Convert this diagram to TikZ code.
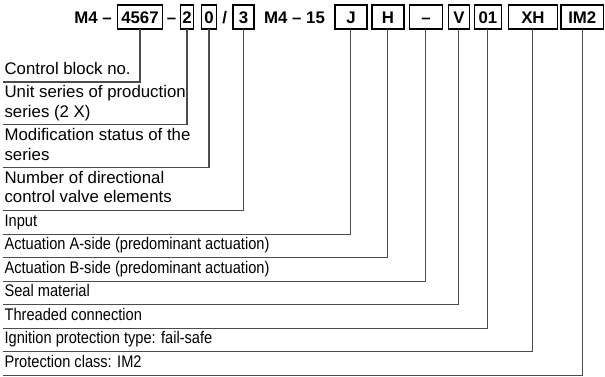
\documentclass[tikz,border=0pt]{standalone}
\usepackage{fontspec}
\setmainfont{Liberation Sans}
\newfontfamily\narrowfont[FakeStretch=0.87]{Liberation Sans}
\usetikzlibrary{positioning,calc}

\begin{document}
\begin{tikzpicture}[
  x=0.75pt,y=-0.75pt,
  every node/.style={font=\fontsize{12.6}{14.6}\selectfont},
  code/.style={draw=black,line width=1.1pt,outer sep=0pt,inner sep=1pt,
    minimum height=18pt,text height=9.1pt,text depth=0pt,
    font=\fontsize{12.6}{14.6}\selectfont\bfseries},
  sep/.style={inner sep=0pt,text height=9.1pt,text depth=0pt,
    font=\fontsize{12.6}{14.6}\selectfont\bfseries},
  lbl/.style={align=left,inner xsep=1pt,inner ysep=1.3pt,
    execute at begin node=\strut,execute at end node=\strut},
  lbln/.style={lbl,font=\fontsize{12.6}{14.6}\narrowfont},
  lead/.style={draw=black!70,line width=0.8pt}
 ]
  \useasboundingbox (0,0) rectangle (605,376);
  % type code
  \node[code,minimum width=34pt] (c4567) at (140,17) {4567};
  \node[code,minimum width=10pt,right=13.25pt of c4567] (c2) {2};
  \node[code,minimum width=11.5pt,right=5.75pt of c2] (c0) {0};
  \node[code,minimum width=16pt,right=12.1pt of c0] (c3) {3};
  \node[code,minimum width=24pt,right=60.6pt of c3] (cJ) {J};
  \node[code,minimum width=24pt,right=3.75pt of cJ] (cH) {H};
  \node[code,minimum width=25pt,right=4pt of cH] (cB) {–};
  \node[code,minimum width=16pt,right=4.25pt of cB] (cV) {V};
  \node[code,minimum width=20.5pt,right=3.5pt of cV] (c01) {01};
  \node[code,minimum width=37pt,right=5pt of c01] (cXH) {XH};
  \node[code,minimum width=32pt,right=2.5pt of cXH] (cIM) {IM2};
  \node[sep,left=4pt of c4567] (tm4) {M4 –};
  \node[sep] (td) at ($(c4567.east)!.5!(c2.west)$) {–};
  \node[sep] (tsl) at ($(c0.east)!.5!(c3.west)$) {/};
  \node[sep] (tm15) at ($(c3.east)!.5!(cJ.west)$) {M4 – 15};
  % legend
  \node[lbl,anchor=south west] (lctl) at (3,82) {Control block no.};
  \node[lbl,below right=0pt of lctl.south west] (lser)
    {\strut Unit series of production\\series (2 X)\strut};
  \node[lbl,below right=0pt of lser.south west] (lmod)
    {\strut Modification status of the\\series\strut};
  \node[lbl,below right=0pt of lmod.south west] (lnum)
    {\strut Number of directional\\control valve elements\strut};
  \node[lbln,below right=0pt of lnum.south west] (linp) {Input};
  \node[lbln,below right=0pt of linp.south west] (lactA)
    {Actuation A-side (predominant actuation)};
  \node[lbln,below right=0pt of lactA.south west] (lactB)
    {Actuation B-side (predominant actuation)};
  \node[lbln,below right=0pt of lactB.south west] (lseal) {Seal material};
  \node[lbln,below right=0pt of lseal.south west] (lthr) {Threaded connection};
  \node[lbln,below right=0pt of lthr.south west] (lign)
    {Ignition protection type: fail-safe};
  \node[lbln,below right=0pt of lign.south west] (lcls) {Protection class: IM2};
  % leaders
  \draw[lead] (c4567.south) |- (lctl.south west);
  \draw[lead] (c2.south) |- (lser.south west);
  \draw[lead] (c0.south) |- (lmod.south west);
  \draw[lead] (c3.south) |- (lnum.south west);
  \draw[lead] (cJ.south) |- (linp.south west);
  \draw[lead] (cH.south) |- (lactA.south west);
  \draw[lead] (cB.south) |- (lactB.south west);
  \draw[lead] (cV.south) |- (lseal.south west);
  \draw[lead] (c01.south) |- (lthr.south west);
  \draw[lead] (cXH.south) |- (lign.south west);
  \draw[lead] (cIM.south) |- (lcls.south west);
 \end{tikzpicture}
\end{document}
